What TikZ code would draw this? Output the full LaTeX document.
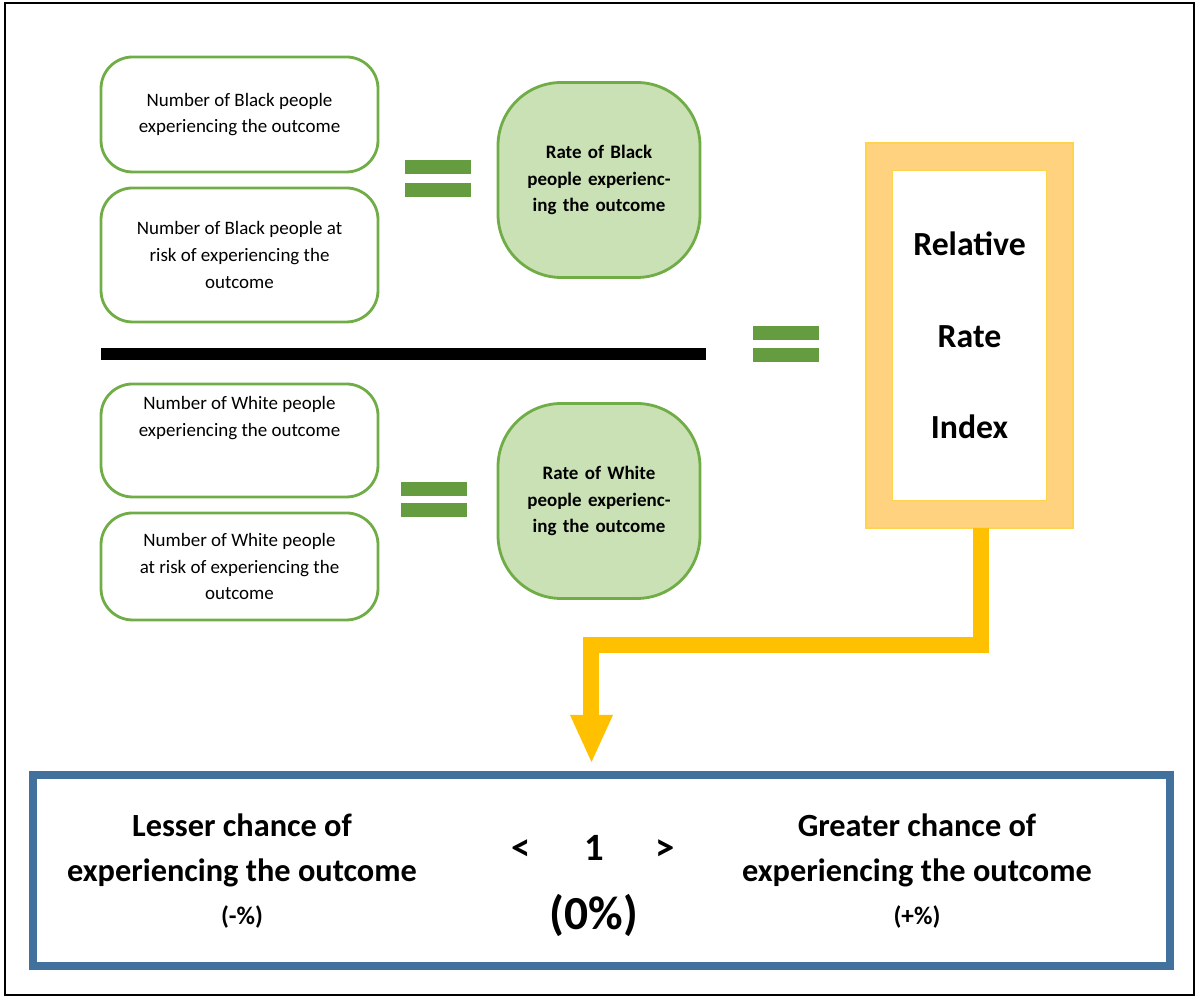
\documentclass[tikz,border=0pt]{standalone}
\usepackage{fontspec}
\setmainfont{Carlito}
\usetikzlibrary{positioning}
\definecolor{boxgreen}{HTML}{70AD47}
\definecolor{fillgreen}{HTML}{C9E1B5}
\definecolor{barorange}{HTML}{FFD27F}
\definecolor{arrowgold}{HTML}{FFC000}
\definecolor{frameblue}{HTML}{41719C}
\tikzset{
  countbox/.style={draw=boxgreen, line width=0.8pt, rounded corners=9pt, minimum width=2.77cm, align=center, font=\fontsize{5.4}{7.6}\selectfont},
  ratebox/.style={draw=boxgreen, fill=fillgreen, line width=0.8pt, rounded corners=18pt, minimum width=2.02cm, minimum height=1.95cm, align=center, text width=1.45cm, font=\bfseries\fontsize{5.4}{7.6}\selectfont},
  eqbar/.style={fill=boxgreen!90!black, minimum width=0.66cm, minimum height=0.14cm, inner sep=0pt},
  outtext/.style={align=center, font=\bfseries\fontsize{9.2}{12.8}\selectfont}
}
\begin{document}
\begin{tikzpicture}[x=1cm,y=-1cm]
\useasboundingbox (0,0) rectangle (12,10.03);
\draw[line width=0.8pt] (0.05,0.03) rectangle (11.94,9.95);
% numerators and denominators
\node[countbox, minimum height=1.15cm] (blackNum) at (2.395,1.145) {Number of Black people\\experiencing the outcome};
\node[countbox, minimum height=1.34cm] (blackRisk) at (2.395,2.55) {Number of Black people at\\risk of experiencing the\\outcome};
\node[countbox, minimum height=1.13cm] (whiteNum) at (2.395,4.405) {Number of White people\\experiencing the outcome\\[6pt]};
\node[countbox, minimum height=1.07cm] (whiteRisk) at (2.395,5.665) {Number of White people\\at risk of experiencing the\\outcome};
% equals signs
\node[eqbar] (eqA1) at (4.38,1.67) {};
\node[eqbar] (eqA2) at (4.38,1.90) {};
\node[eqbar] (eqB1) at (7.86,3.33) {};
\node[eqbar] (eqB2) at (7.86,3.55) {};
\node[eqbar] (eqC1) at (4.34,4.89) {};
\node[eqbar] (eqC2) at (4.34,5.10) {};
% rates
\node[ratebox] (blackRate) at (5.99,1.80) {Rate of Black people experiencing the outcome\\[4pt]};
\node[ratebox] (whiteRate) at (5.99,5.01) {Rate of White people experiencing the outcome\\[4pt]};
\draw[line width=3.4pt] (1.01,3.54) -- (7.06,3.54);
% index
\node[draw=arrowgold!70, line width=0.6pt, fill=barorange, minimum width=2.07cm, minimum height=3.85cm, inner sep=0pt] (rriOuter) at (9.695,3.355) {};
\node[draw=arrowgold!70, fill=white, minimum width=1.54cm, minimum height=3.3cm, align=center, font=\bfseries\fontsize{9.6}{26}\selectfont] (rri) at (rriOuter) {Relative\\Rate\\Index};
\coordinate (bendA) at (9.81,6.45);
\coordinate (bendB) at (5.91,6.45);
\draw[arrowgold, line width=4.5pt] (9.81,5.28) -- (bendA) -- (bendB) -- (5.91,7.2);
\fill[arrowgold] (5.70,7.15) -- (6.13,7.15) -- (5.915,7.62) -- cycle;
% outcome
\draw[frameblue, line width=2.5pt] (0.33,7.75) rectangle (11.70,9.66);
\node[outtext] (lesser) at (2.42,8.5) {Lesser chance of\\experiencing the outcome};
\node[font=\bfseries\fontsize{7.2}{8}\selectfont] (lesserPct) at (2.42,9.17) {(-\%)};
\node[outtext] (greater) at (9.17,8.5) {Greater chance of\\experiencing the outcome};
\node[font=\bfseries\fontsize{7.2}{8}\selectfont] (greaterPct) at (9.17,9.17) {(+\%)};
\node[font=\bfseries\fontsize{11}{12}\selectfont] (lt) at (5.21,8.5) {<};
\node[font=\bfseries\fontsize{11}{12}\selectfont] (one) at (5.94,8.48) {1};
\node[font=\bfseries\fontsize{11}{12}\selectfont] (gt) at (6.65,8.5) {>};
\node[font=\bfseries\fontsize{13.5}{14}\selectfont] (zero) at (5.94,9.15) {(0\%)};
\end{tikzpicture}
\end{document}
